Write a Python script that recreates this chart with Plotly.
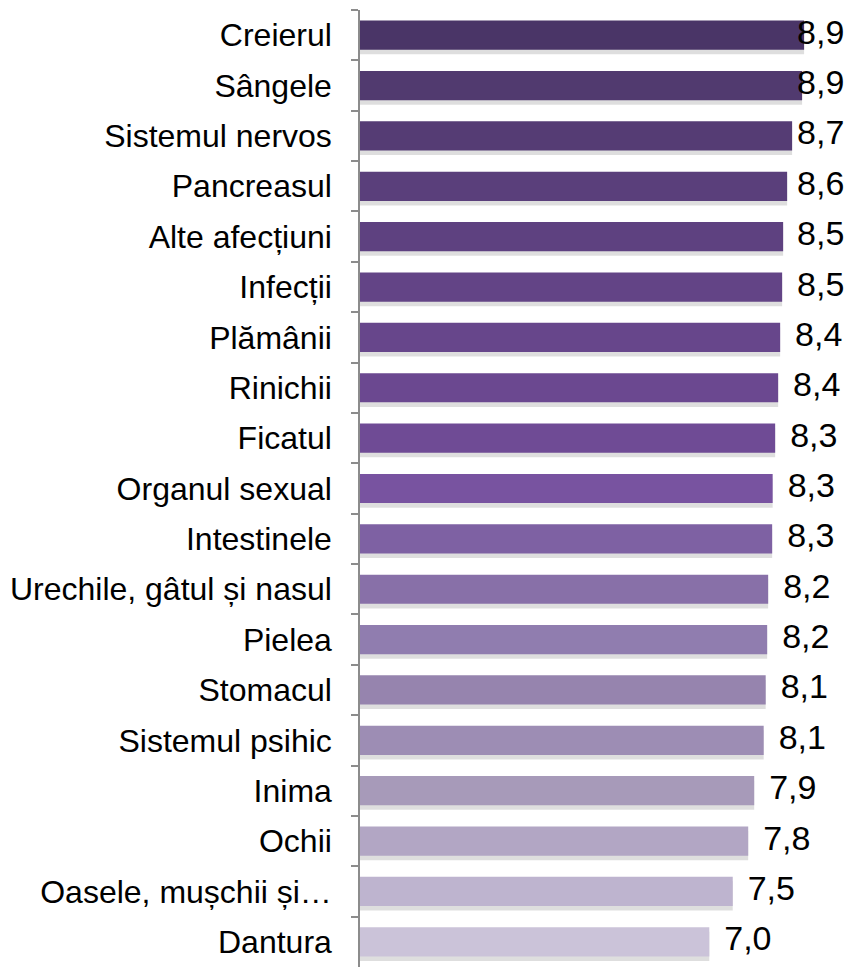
import numpy as np
import plotly.graph_objects as go

categorii = [
    "Creierul", "Sângele", "Sistemul nervos", "Pancreasul", "Alte afecțiuni",
    "Infecții", "Plămânii", "Rinichii", "Ficatul", "Organul sexual",
    "Intestinele", "Urechile, gâtul și nasul", "Pielea", "Stomacul",
    "Sistemul psihic", "Inima", "Ochii", "Oasele, mușchii și…", "Dantura",
]
valori = [
    8.90, 8.86, 8.66, 8.56, 8.48, 8.46, 8.42, 8.38, 8.32, 8.27,
    8.26, 8.18, 8.16, 8.13, 8.09, 7.90, 7.78, 7.47, 7.00,
]
culori = [
    "#4a3567", "#513a6f", "#553c74", "#5a3f7b", "#5e4180", "#634486",
    "#67468b", "#6b4890", "#6f4b95", "#7853a0", "#7e61a3", "#8870a8",
    "#907daf", "#9684ae", "#9d8db4", "#a79ab9", "#b2a6c4", "#beb4cf",
    "#cbc3d9",
]

etichete = [f"{v:.1f}".replace(".", ",") for v in valori]
x_max = 9.86
# eticheta stă după bară, dar nu iese din zona graficului
x_text = np.minimum(np.array(valori) + 0.3, 8.76)

font = "Arial, Liberation Sans, sans-serif"

fig = go.Figure()
# umbra de sub bare
fig.add_trace(go.Bar(
    x=valori, y=categorii, orientation="h", offset=-0.2, width=0.58,
    marker=dict(color="rgba(0,0,0,0.13)", line=dict(width=0)),
    hoverinfo="skip",
))
fig.add_trace(go.Bar(
    x=valori, y=categorii, orientation="h", offset=-0.29, width=0.58,
    marker=dict(color=culori, line=dict(width=0)),
    hoverinfo="skip",
))
fig.add_trace(go.Scatter(
    x=x_text, y=categorii, mode="text", text=etichete,
    textposition="middle right",
    textfont=dict(family=font, size=34, color="#000000"),
    cliponaxis=False, hoverinfo="skip",
))

# pagina are margine de 8px în body, de aici marginile mai mici sus/stânga
fig.update_layout(
    width=852, height=967,
    margin=dict(l=350, r=8, t=2, b=8),
    paper_bgcolor="white", plot_bgcolor="white",
    showlegend=False, barmode="overlay",
    font=dict(family=font, size=32, color="#000000"),
)
fig.update_xaxes(range=[0, x_max], visible=False, showgrid=False, zeroline=False)
fig.update_yaxes(
    range=[len(categorii) - 0.5, -0.5], showline=True, linecolor="#8c8c8c",
    linewidth=1.5, ticks="outside", tickson="boundaries", ticklen=7,
    tickcolor="#8c8c8c", tickwidth=1.5, ticklabelstandoff=20, showgrid=False,
    tickfont=dict(family=font, size=32, color="#000000"),
)

fig.write_html("out.html")
